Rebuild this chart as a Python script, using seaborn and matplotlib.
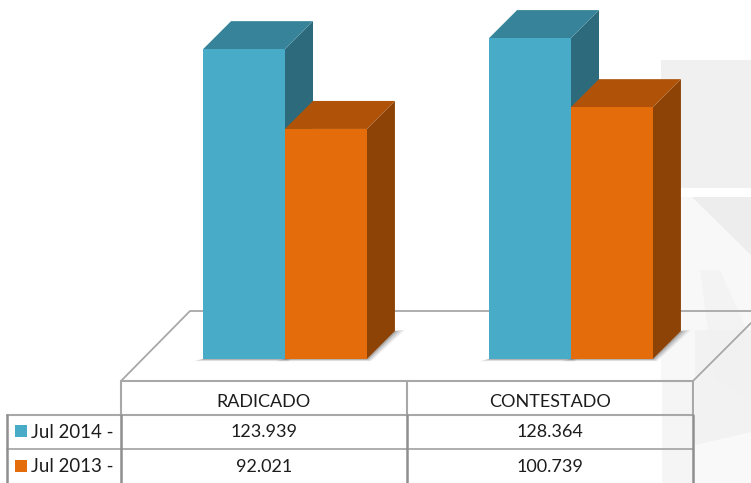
import seaborn as sns
import pandas as pd
from matplotlib import pyplot as plt
from matplotlib.patches import Polygon, Rectangle
from matplotlib.colors import to_rgb

categories = ["RADICADO", "CONTESTADO"]
series_names = ["Jul 2014 -", "Jul 2013 -"]
jul_2014 = [123.939, 128.364]
jul_2013 = [92.021, 100.739]
table_2014 = ["123.939", "128.364"]
table_2013 = ["92.021", "100.739"]

BLUE = "#48ACC8"
ORANGE = "#E46C0A"
W, H = 751, 483
GRID = "#8F8F8F"
FLOOR = "#A8A8A8"
TEXT = "#1C1C1C"

sns.set_theme(style="white")
plt.rcParams['font.family'] = ['Lato', 'DejaVu Sans']

fig = plt.figure(figsize=(W / 100, H / 100), dpi=100)

# overlay in pixel coords for the floor, the table and the background
bg = fig.add_axes([0, 0, 1, 1], zorder=0)
bg.set_xlim(0, W)
bg.set_ylim(H, 0)
bg.axis("off")

# faint watermark on the right
bg.add_patch(Rectangle((661, 60), 90, 128, fc="#F0F0F0", ec="none"))
bg.add_patch(Rectangle((661, 197), 90, 286, fc="#F8F8F8", ec="none"))
bg.add_patch(Polygon([(692, 197), (751, 197), (751, 255)], fc="#EDEDED", ec="none"))
bg.add_patch(Polygon([(700, 270), (720, 270), (751, 340), (751, 400), (715, 380)], fc="#F3F3F3", ec="none"))
bg.add_patch(Polygon([(695, 330), (751, 330), (751, 483), (695, 483)], fc="#F1F1F1", ec="none", alpha=0.8))
bg.add_patch(Polygon([(695, 445), (751, 432), (751, 483), (695, 483)], fc="#F9F9F9", ec="none"))

# floor
bg.plot([121, 190, 751], [381, 311, 311], color=FLOOR, lw=1.3)
bg.plot([693, 751], [381, 323], color=FLOOR, lw=1.3)

# table
bg.add_patch(Rectangle((121, 381), 572, 102, fc="white", ec="none"))
bg.add_patch(Rectangle((7, 415), 114, 68, fc="white", ec="none"))
bg.add_patch(Rectangle((662, 381), 31, 102, fc="#F5F5F5", ec="none"))
bg.plot([121, 693], [381, 381], color=FLOOR, lw=1.5)
bg.plot([7, 693], [415, 415], color=FLOOR, lw=1.5)
bg.plot([7, 693], [449, 449], color=FLOOR, lw=1.3)
for x, top in [(121, 381), (407, 381), (693, 381)]:
    bg.plot([x, x], [top, 415], color=FLOOR, lw=1.5)
for x in [7, 121, 407, 693]:
    bg.plot([x, x], [415, H], color=GRID, lw=1.8)

text_size = 13
for x, name, v1, v2 in zip([264, 550], categories, table_2014, table_2013):
    bg.text(x, 402, name, ha="center", va="center", fontsize=text_size, color=TEXT)
    bg.text(x, 432, v1, ha="center", va="center", fontsize=text_size, color=TEXT)
    bg.text(x, 467, v2, ha="center", va="center", fontsize=text_size, color=TEXT)
for y, name, color in zip([431, 466], series_names, [BLUE, ORANGE]):
    bg.add_patch(Rectangle((15, y - 6), 12, 12, fc=color, ec="none"))
    bg.text(31, y + 1, name, ha="left", va="center", fontsize=text_size + 0.4, color=TEXT)

# bars sit on the floor, shifted back from the table
ax = fig.add_axes([142 / W, (H - 359) / H, 572 / W, 359 / H], zorder=1)
ax.patch.set_alpha(0)
df = pd.DataFrame({
    "cat": categories * 2,
    "serie": [series_names[0]] * 2 + [series_names[1]] * 2,
    "val": jul_2014 + jul_2013,
})
sns.barplot(data=df, x="cat", y="val", hue="serie", palette=[BLUE, ORANGE],
            width=0.573, gap=0, saturation=1, legend=False, ax=ax, zorder=5,
            linewidth=0, edgecolor="none")
ax.set_ylim(0, 143.6)
ax.set_xlim(-0.5, 1.5)
ax.axis("off")

dx = 28 / 286
dy = 28 / 2.5


def shade(color, k):
    return tuple(c * k for c in to_rgb(color))


bars = [p for p in ax.patches if p.get_height() > 0]
bars.sort(key=lambda p: p.get_x())
for i, bar in enumerate(bars):
    x0 = bar.get_x()
    x1 = x0 + bar.get_width()
    h = bar.get_height()
    color = bar.get_facecolor()
    z = 5 + i
    # soft shadow on the floor, side and top faces
    for grow, alpha in [(0.035, 0.12), (0.024, 0.18), (0.012, 0.25), (0.004, 0.35)]:
        ax.add_patch(Polygon([(x0 - grow, -grow * 25), (x1 + grow * 0.4, -grow * 25),
                              (x1 + dx + grow, dy + grow * 15), (x1 + dx, dy), (x1, 0), (x0, 0)],
                             fc="#606060", ec="none", alpha=alpha, zorder=2, clip_on=False))
    ax.add_patch(Polygon([(x1, 0), (x1 + dx, dy), (x1 + dx, h + dy), (x1, h)],
                         fc=shade(color, 0.62), ec="none", zorder=z))
    ax.add_patch(Polygon([(x0, h), (x1, h), (x1 + dx, h + dy), (x0 + dx, h + dy)],
                         fc=shade(color, 0.77), ec="none", zorder=z))
    bar.set_zorder(z + 0.5)

fig.savefig("out.png", dpi=100)
